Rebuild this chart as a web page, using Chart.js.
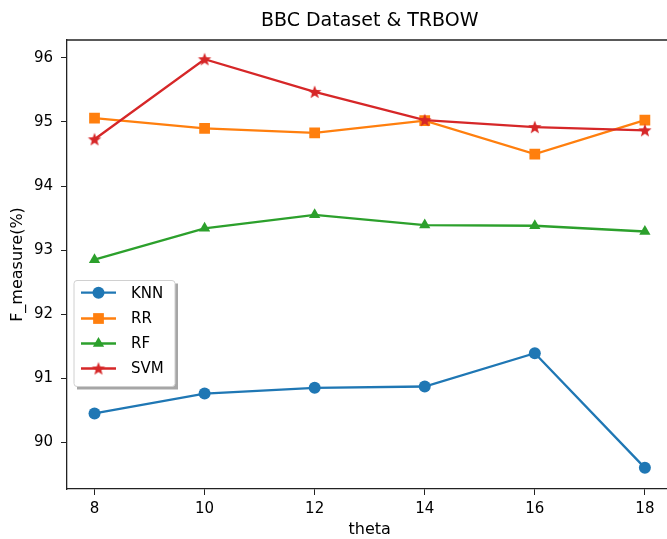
<!DOCTYPE html>
<html>
<head>
<meta charset="utf-8">
<script src="https://cdn.jsdelivr.net/npm/chart.js@4"></script>
<style>
  html, body { margin: 0; padding: 0; background: #fff; overflow: hidden; }
  #wrap { width: 667px; height: 539px; overflow: hidden; }
</style>
</head>
<body>
<div id="wrap"><canvas id="chart" width="680" height="539"></canvas></div>
<script>
// values
const thetas = [8, 10, 12, 14, 16, 18];
const knn = [90.45, 90.76, 90.85, 90.87, 91.39, 89.60];
const rr = [95.06, 94.90, 94.83, 95.02, 94.50, 95.03];
const rf = [92.85, 93.34, 93.55, 93.39, 93.38, 93.29];
const svm = [94.73, 95.98, 95.47, 95.03, 94.92, 94.87];
const xTicks = [8, 10, 12, 14, 16, 18];
const yTicks = [90, 91, 92, 93, 94, 95, 96];
const titleText = 'BBC Dataset & TRBOW';

const colors = { KNN: '#1f77b4', RR: '#ff7f0e', RF: '#2ca02c', SVM: '#d62728' };

// filled five point star, used as point style
function makeStar(color, r) {
    const c = document.createElement('canvas');
    const s = Math.ceil(r * 2 + 2);
    c.width = s; c.height = s;
    const g = c.getContext('2d');
    g.beginPath();
    for (let i = 0; i < 10; i++) {
        const rad = i % 2 === 0 ? r : r * 0.42;
        const a = -Math.PI / 2 + i * Math.PI / 5;
        const px = s / 2 + rad * Math.cos(a), py = s / 2 + rad * Math.sin(a) + 0.5;
        if (i === 0) g.moveTo(px, py); else g.lineTo(px, py);
    }
    g.closePath();
    g.fillStyle = color;
    g.fill();
    return c;
}
const star = makeStar(colors.SVM, 7);

function pts(vals) {
    return thetas.map((t, i) => ({ x: t, y: vals[i] }));
}

const series = [
    { label: 'KNN', data: knn, style: 'circle', radius: 6, order: 4 },
    { label: 'RR', data: rr, style: 'rect', radius: 7.6, order: 3 },
    { label: 'RF', data: rf, style: 'triangle', radius: 6.5, order: 2 },
    { label: 'SVM', data: svm, style: star, radius: 7, order: 1 }
];

function drawMarker(ctx, s, x, y) {
    ctx.fillStyle = colors[s.label];
    ctx.beginPath();
    if (s.style === 'circle') {
        ctx.arc(x, y, s.radius, 0, Math.PI * 2);
        ctx.fill();
    } else if (s.style === 'rect') {
        const h = s.radius * Math.SQRT1_2;
        ctx.fillRect(x - h, y - h, 2 * h, 2 * h);
    } else if (s.style === 'triangle') {
        const r = s.radius;
        ctx.moveTo(x, y - r);
        ctx.lineTo(x + r * Math.cos(Math.PI / 6), y + r / 2);
        ctx.lineTo(x - r * Math.cos(Math.PI / 6), y + r / 2);
        ctx.closePath();
        ctx.fill();
    } else {
        ctx.drawImage(s.style, x - s.style.width / 2, y - s.style.height / 2);
    }
}

// title over the axes, top spine (right spine falls outside the picture), legend box
const framePlugin = {
    id: 'frame',
    afterDatasetsDraw(chart) {
        const { ctx, chartArea: a } = chart;
        ctx.save();
        ctx.strokeStyle = '#222';
        ctx.lineWidth = 1.3;
        ctx.beginPath();
        ctx.moveTo(a.left, a.top);
        ctx.lineTo(a.right + 10, a.top);
        ctx.stroke();

        ctx.fillStyle = '#000';
        ctx.font = '19px "DejaVu Sans"';
        ctx.textAlign = 'center';
        ctx.textBaseline = 'middle';
        ctx.fillText(titleText, (a.left + a.right) / 2, 21);

        // legend
        const bx = 74, by = 280.5, bw = 101, bh = 106;
        ctx.fillStyle = 'rgba(0,0,0,0.35)';
        ctx.fillRect(bx + 3, by + 3, bw, bh);
        ctx.beginPath();
        ctx.roundRect(bx, by, bw, bh, 3);
        ctx.fillStyle = '#fff';
        ctx.fill();
        ctx.strokeStyle = '#d0d0d0';
        ctx.lineWidth = 1;
        ctx.stroke();

        const rows = [292.7, 318.5, 343.5, 368.5];
        series.forEach((s, i) => {
            const y = rows[i];
            ctx.strokeStyle = colors[s.label];
            ctx.lineWidth = 2.3;
            ctx.beginPath();
            ctx.moveTo(81, y);
            ctx.lineTo(116, y);
            ctx.stroke();
            drawMarker(ctx, s, 98.5, y);
            ctx.fillStyle = '#000';
            ctx.font = '15px "DejaVu Sans"';
            ctx.textBaseline = 'middle';
            ctx.textAlign = 'left';
            ctx.fillText(s.label, 131, y + 1);
        });
        ctx.restore();
    }
};

new Chart(document.getElementById('chart'), {
    type: 'line',
    data: {
        datasets: series.map(s => ({
            label: s.label,
            data: pts(s.data),
            order: s.order,
            borderColor: colors[s.label],
            backgroundColor: colors[s.label],
            borderWidth: 2.3,
            pointStyle: s.style,
            pointRadius: s.radius,
            pointHoverRadius: s.radius,
            pointBorderWidth: 0,
            tension: 0,
            fill: false
        }))
    },
    options: {
        responsive: false,
        animation: false,
        events: [],
        layout: { padding: { left: 0, top: 40, right: 1, bottom: 0 } },
        plugins: {
            legend: { display: false },
            tooltip: { enabled: false },
            title: { display: false }
        },
        scales: {
            x: {
                type: 'linear',
                min: 7.5,
                max: 18.5,
                afterBuildTicks: sc => { sc.ticks = xTicks.map(v => ({ value: v })); },
                afterFit: sc => { sc.height = 50; },
                grid: { drawOnChartArea: false, drawTicks: true, tickLength: 6, tickColor: '#222' },
                border: { display: true, color: '#222', width: 1.3 },
                ticks: { color: '#000', font: { family: 'DejaVu Sans', size: 15 }, padding: 5, maxRotation: 0 },
                title: {
                    display: true, text: 'theta', color: '#000',
                    font: { family: 'DejaVu Sans', size: 16 }, padding: { top: 0, bottom: 0 }
                }
            },
            y: {
                min: 89.27,
                max: 96.28,
                afterBuildTicks: sc => { sc.ticks = yTicks.map(v => ({ value: v })); },
                afterFit: sc => { sc.width = 67; },
                grid: { drawOnChartArea: false, drawTicks: true, tickLength: 6, tickColor: '#222' },
                border: { display: true, color: '#222', width: 1.3 },
                ticks: { color: '#000', font: { family: 'DejaVu Sans', size: 15 }, padding: 8 },
                title: {
                    display: true, text: 'F_measure(%)', color: '#000',
                    font: { family: 'DejaVu Sans', size: 16 }, padding: { top: 8, bottom: 8 }
                }
            }
        }
    },
    plugins: [framePlugin]
});
</script>
</body>
</html>
